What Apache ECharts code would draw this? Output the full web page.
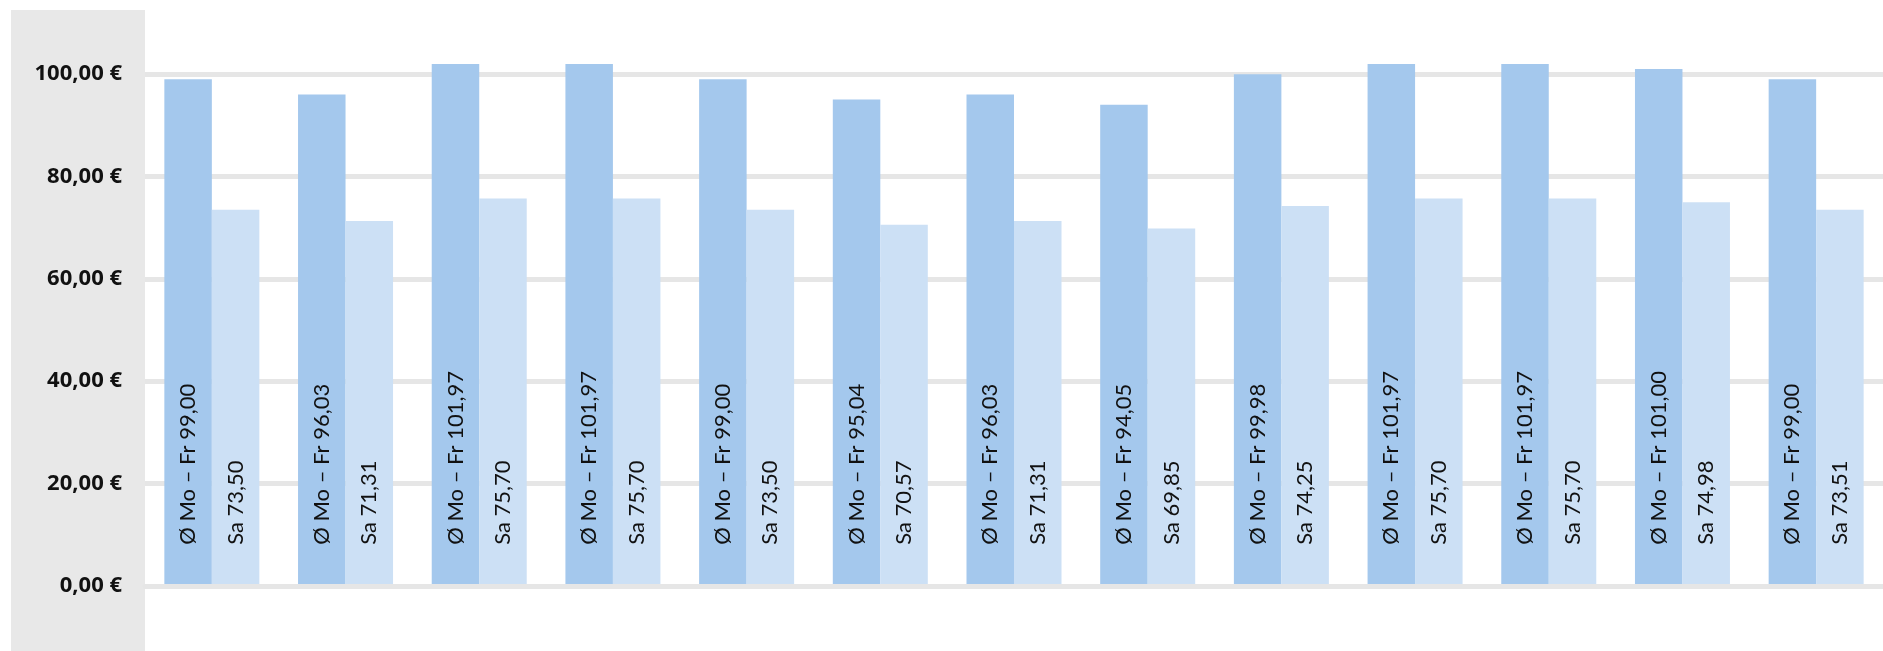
<!DOCTYPE html>
<html>
<head>
<meta charset="utf-8">
<script src="https://cdn.jsdelivr.net/npm/echarts@6/dist/echarts.min.js"></script>
<style>
html,body{margin:0;padding:0;background:#fff;}
#chart{width:1883px;height:651px;}
</style>
</head>
<body>
<div id="chart"></div>
<script>
const categories = ['1','2','3','4','5','6','7','8','9','10','11','12','13'];
const weekdayAvg = [99.00, 96.03, 101.97, 101.97, 99.00, 95.04, 96.03, 94.05, 99.98, 101.97, 101.97, 101.00, 99.00];
const saturday = [73.50, 71.31, 75.70, 75.70, 73.50, 70.57, 71.31, 69.85, 74.25, 75.70, 75.70, 74.98, 73.51];
const weekdayPrefix = 'Ø Mo – Fr ';
const saturdayPrefix = 'Sa ';
const yTicks = [0, 20, 40, 60, 80, 100];

const fmt = v => v.toFixed(2).replace('.', ',');

const chart = echarts.init(document.getElementById('chart'), null, {renderer: 'canvas'});

const labelStyle = (prefix) => ({
  show: true,
  position: 'insideBottom',
  distance: 41,
  rotate: 90,
  align: 'left',
  verticalAlign: 'middle',
  fontFamily: 'Lato, "Open Sans", sans-serif',
  fontSize: 22,
  color: '#111111',
  formatter: p => prefix + fmt(p.value)
});

chart.setOption({
  animation: false,
  backgroundColor: '#ffffff',
  graphic: [{
    type: 'rect',
    z: -10,
    silent: true,
    shape: {x: 11, y: 10, width: 134, height: 651},
    style: {fill: '#e8e8e8'}
  }],
  grid: {left: 145, right: -4, top: 74.2, bottom: 65.2, containLabel: false},
  xAxis: {
    type: 'category',
    data: categories,
    z: 5,
    axisLine: {show: true, lineStyle: {color: '#e6e6e6', width: 5}},
    axisTick: {show: false},
    axisLabel: {show: false},
    splitLine: {show: false}
  },
  yAxis: {
    type: 'value',
    min: yTicks[0],
    max: yTicks[yTicks.length - 1],
    interval: 20,
    axisLine: {show: false},
    axisTick: {show: false},
    axisLabel: {
      margin: 23,
      fontFamily: '"Open Sans", sans-serif',
      fontWeight: 'bold',
      fontSize: 22,
      color: '#111111',
      formatter: v => fmt(v) + ' €'
    },
    splitLine: {show: true, lineStyle: {color: '#e6e6e6', width: 5}}
  },
  series: [{
    type: 'bar',
    data: weekdayAvg,
    barWidth: 47.5,
    barGap: '0%',
    clip: false,
    itemStyle: {color: '#a4c8ed'},
    label: labelStyle(weekdayPrefix)
  }, {
    type: 'bar',
    data: saturday,
    barWidth: 47.5,
    barGap: '0%',
    clip: false,
    itemStyle: {color: '#cce0f5'},
    label: labelStyle(saturdayPrefix)
  }]
});
</script>
</body>
</html>
